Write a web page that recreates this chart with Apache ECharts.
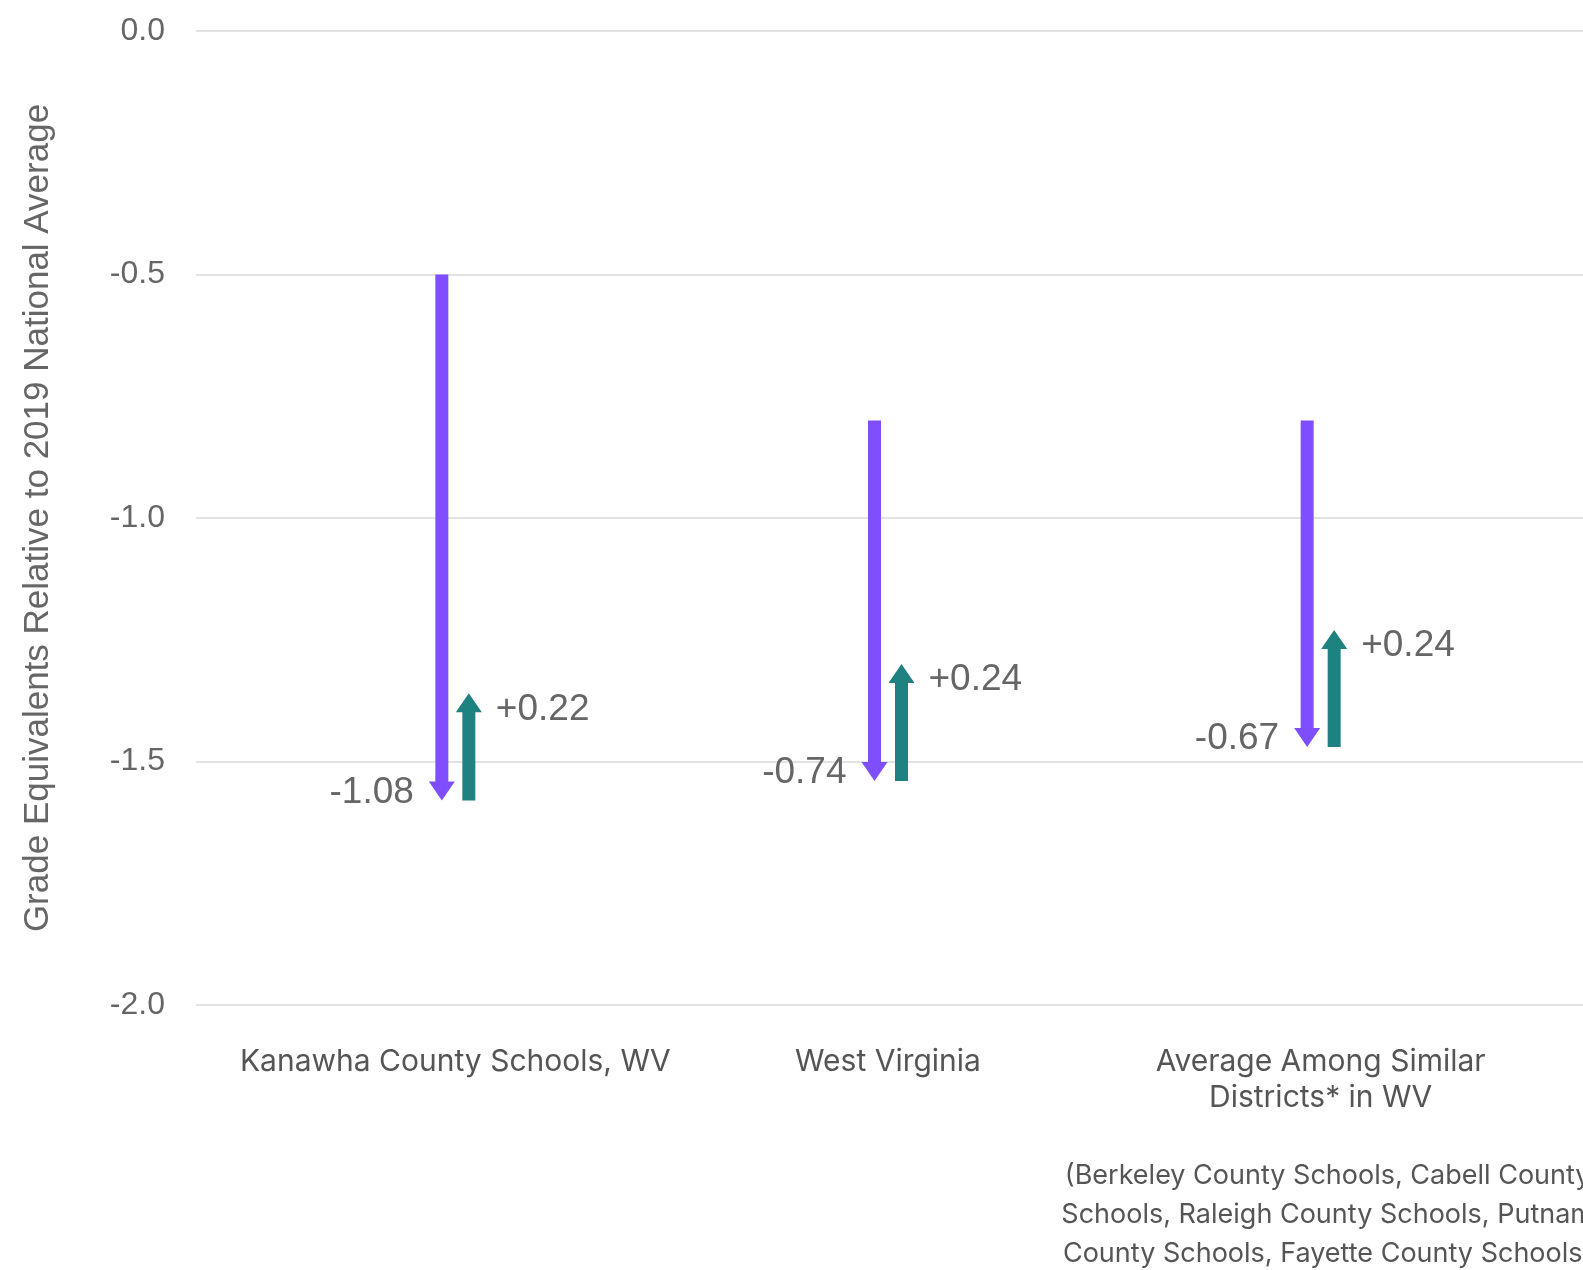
<!DOCTYPE html>
<html>
<head>
<meta charset="utf-8">
<script src="https://cdn.jsdelivr.net/npm/echarts@6/dist/echarts.min.js"></script>
<style>
html,body{margin:0;padding:0;background:#fff;}
#chart{width:1583px;height:1270px;}
</style>
</head>
<body>
<div id="chart"></div>
<script>
const categories = ['Kanawha County Schools, WV', 'West Virginia', 'Average Among Similar Districts* in WV'];
const startValues = [-0.5, -0.8, -0.8];
const declines = [-1.08, -0.74, -0.67];
const recoveries = [0.22, 0.24, 0.24];
const yTicks = [0, -0.5, -1.0, -1.5, -2.0];
const footnoteLines = ['(Berkeley County Schools, Cabell County', 'Schools, Raleigh County Schools, Putnam', 'County Schools, Fayette County Schools)'];

const PURPLE = '#7f4fff';
const TEAL = '#1e8280';

const arrowData = [];
const arrowLabels = [];
categories.forEach((c, i) => {
  const low = +(startValues[i] + declines[i]).toFixed(2);
  const high = +(low + recoveries[i]).toFixed(2);
  arrowData.push([i, startValues[i], low, 0]);
  arrowLabels.push(declines[i].toFixed(2));
  arrowData.push([i, low, high, 1]);
  arrowLabels.push('+' + recoveries[i].toFixed(2));
});

function renderArrow(params, api) {
  const idx = api.value(0);
  const kind = api.value(3);
  const p0 = api.coord([idx, api.value(1)]);
  const p1 = api.coord([idx, api.value(2)]);
  const off = kind === 0 ? -13.5 : 13.5;
  const x = p0[0] + off;
  const y0 = p0[1], y1 = p1[1];
  const dir = y1 > y0 ? 1 : -1;
  const hw = 6.5, HW = 13, HL = 19;
  const yb = y1 - dir * HL;
  const pts = [[x - hw, y0], [x + hw, y0], [x + hw, yb], [x + HW, yb], [x, y1], [x - HW, yb], [x - hw, yb]];
  const color = kind === 0 ? PURPLE : TEAL;
  const txt = arrowLabels[params.dataIndex];
  const font = '37px "Liberation Sans", Arial, sans-serif';
  return {
    type: 'group',
    children: [
      { type: 'polygon', shape: { points: pts }, style: { fill: color } },
      {
        type: 'text',
        style: kind === 0 ? {
          text: txt, x: x - 28, y: y1 - 8, align: 'right', verticalAlign: 'middle',
          fill: '#666', font: font
        } : {
          text: txt, x: x + 27, y: y1 + 16, align: 'left', verticalAlign: 'middle',
          fill: '#666', font: font
        }
      }
    ]
  };
}

const chart = echarts.init(document.getElementById('chart'));
chart.setOption({
  animation: false,
  backgroundColor: '#fff',
  grid: [
    { left: 196, right: 0, top: 31, bottom: 265, outerBoundsMode: 'none', containLabel: false },
    { left: 239, right: 46, top: 31, bottom: 265, outerBoundsMode: 'none', containLabel: false }
  ],
  xAxis: [
    { type: 'value', gridIndex: 0, show: false, min: 0, max: 1 },
    {
      type: 'category', gridIndex: 1, data: categories,
      axisLine: { show: false }, axisTick: { show: false },
      axisLabel: {
        interval: 0, margin: 39,
        color: '#555', fontFamily: 'Inter', fontSize: 30, lineHeight: 36,
        formatter: function (v, i) {
          if (i === 2) {
            return 'Average Among Similar\nDistricts* in WV\n{gap| }\n' + footnoteLines.map(l => '{n|' + l + '}').join('\n');
          }
          return v;
        },
        rich: {
          gap: { fontSize: 10, lineHeight: 40 },
          n: { fontFamily: 'Inter', fontSize: 27, lineHeight: 39, color: '#555', padding: [0, 0, 0, 14] }
        }
      }
    }
  ],
  yAxis: [
    {
      type: 'value', gridIndex: 0, min: -2, max: 0, interval: 0.5,
      axisLine: { show: false }, axisTick: { show: false },
      axisLabel: {
        margin: 31, color: '#666', fontSize: 32, fontFamily: '"Liberation Sans", Arial, sans-serif',
        formatter: v => v.toFixed(1)
      },
      splitLine: { lineStyle: { color: '#e2e2e2', width: 2 } },
      name: 'Grade Equivalents Relative to 2019 National Average',
      nameLocation: 'middle', nameGap: 140,
      nameTextStyle: { color: '#666', fontSize: 35, fontFamily: '"Liberation Sans", Arial, sans-serif' }
    },
    { type: 'value', gridIndex: 1, min: -2, max: 0, show: false }
  ],
  series: [
    {
      type: 'custom', xAxisIndex: 1, yAxisIndex: 1,
      renderItem: renderArrow, data: arrowData, clip: false
    }
  ]
});
</script>
</body>
</html>
